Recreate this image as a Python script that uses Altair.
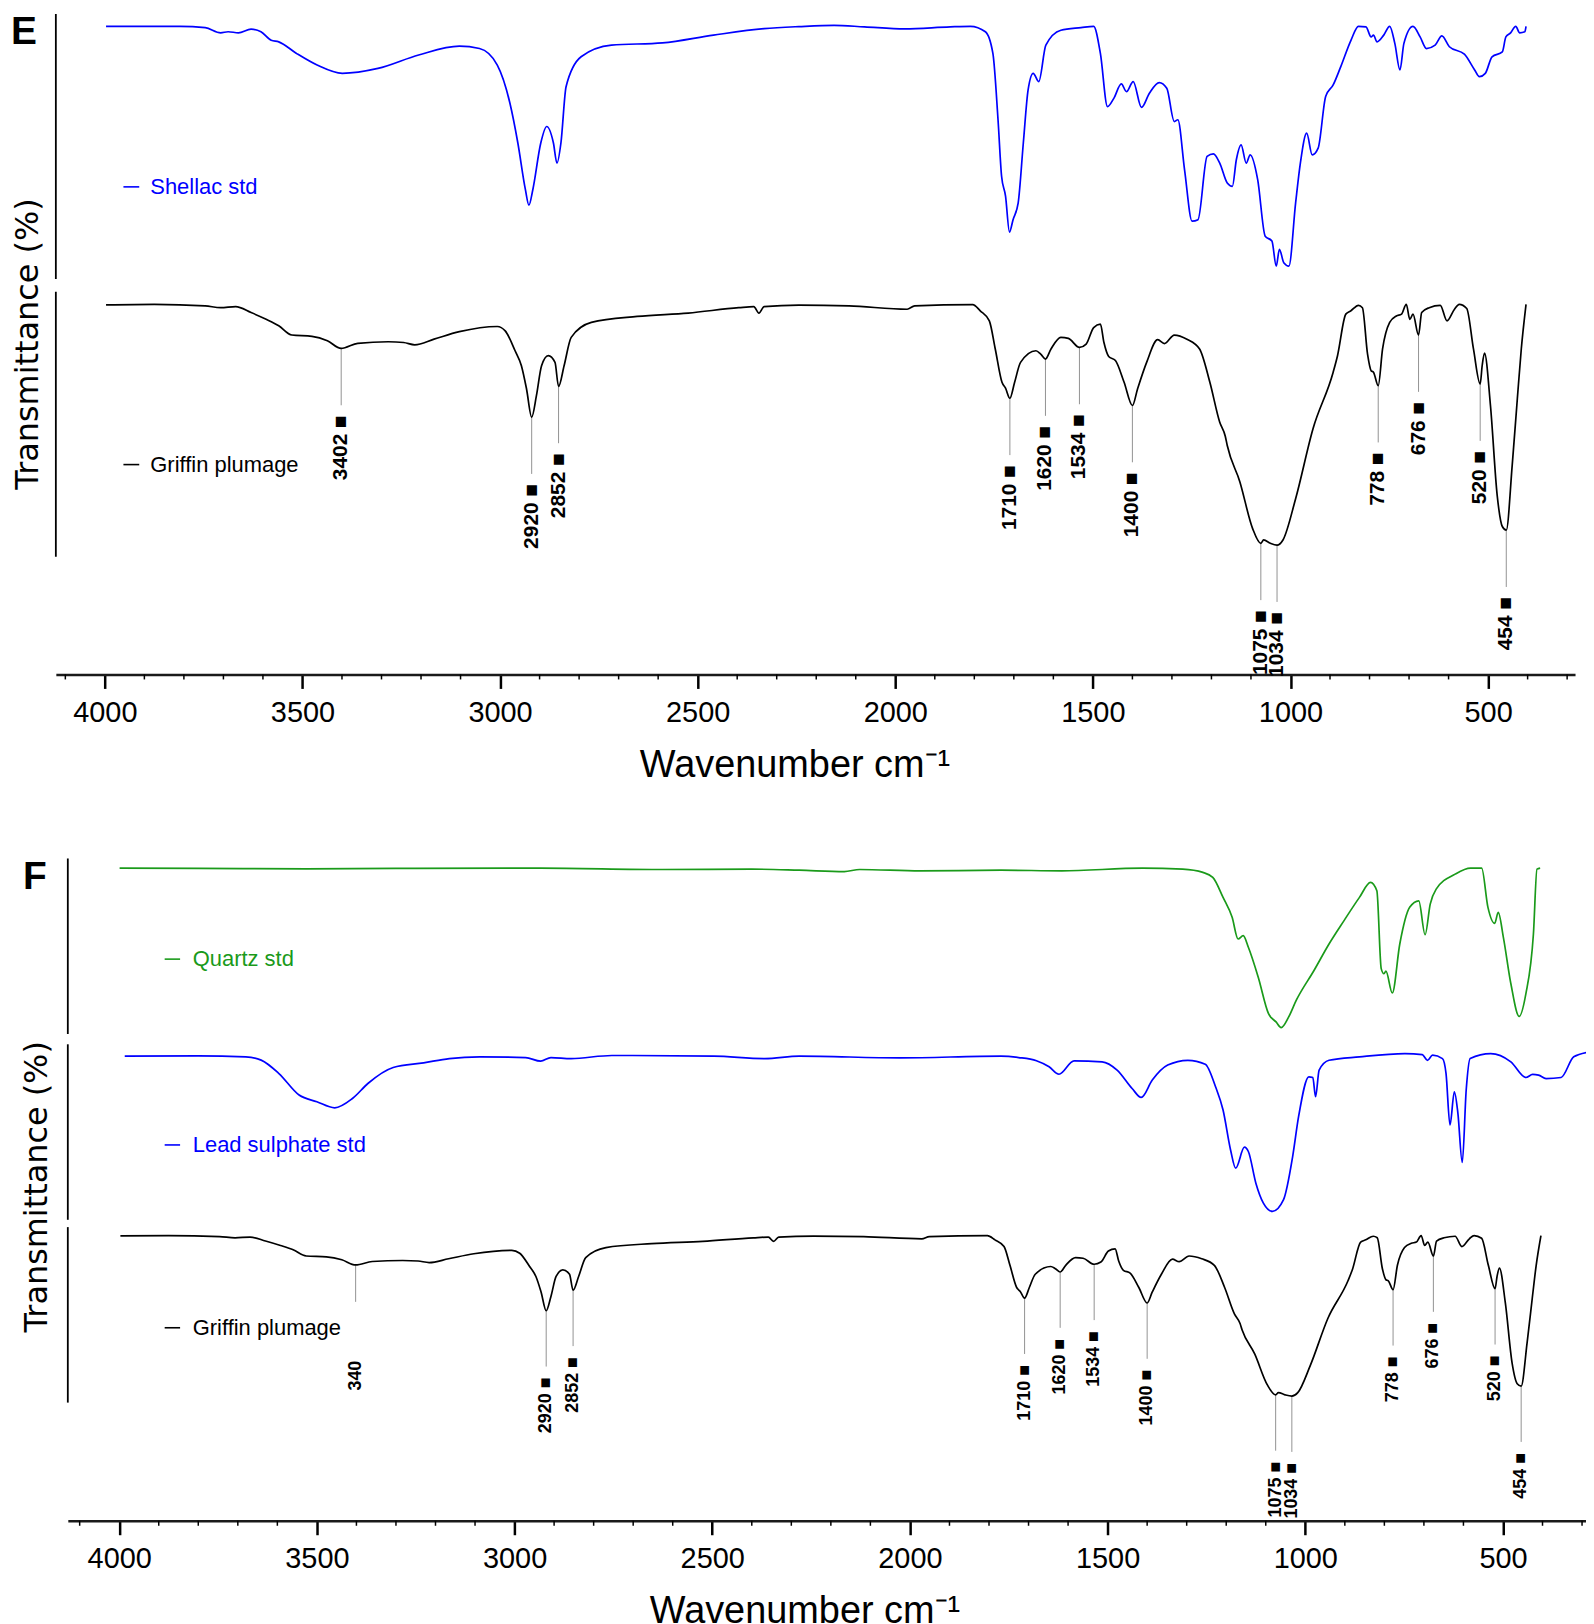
import altair as alt
import numpy as np
import pandas as pd

# ---------------- data (wavenumber in cm-1, transmittance in % of each trace's band) ----------------
shellac_wn = [3997, 3810, 3746, 3707, 3688, 3662, 3630, 3605, 3579, 3560, 3515, 3463, 3399, 3309, 3206,
              3103, 3052, 3007, 2975, 2955, 2936, 2927, 2917, 2897, 2882, 2865, 2856, 2846, 2833, 2795,
              2718, 2589, 2460, 2332, 2244, 2155, 2078, 1976, 1861, 1810, 1772, 1753, 1740, 1731, 1721,
              1711, 1702, 1689, 1676, 1664, 1651, 1637, 1619, 1581, 1530, 1498, 1481, 1463, 1447, 1428,
              1415, 1398, 1377, 1357, 1332, 1313, 1294, 1285, 1268, 1249, 1234, 1211, 1195, 1179, 1160,
              1147, 1137, 1125, 1112, 1102, 1083, 1064, 1047, 1036, 1028, 1017, 1004, 987, 975, 959,
              945, 930, 911, 892, 873, 847, 828, 809, 796, 790, 781, 764, 749, 736, 723,
              713, 690, 672, 656, 634, 617, 598, 560, 534, 522, 507, 490, 464, 455, 443,
              430, 420, 407, 404]
shellac_t = [95.2, 95.2, 94.7, 92.7, 93.1, 92.7, 94.1, 93.1, 89.8, 89.2, 84.7, 80.2, 77.0, 78.9, 84.1,
             87.5, 86.6, 80.2, 65.4, 50.0, 32.0, 25.9, 32.0, 50.0, 56.4, 50.0, 42.2, 50.0, 71.8, 83.4,
             87.9, 88.8, 91.8, 94.3, 95.1, 95.6, 95.0, 94.2, 95.0, 95.2, 93.1, 84.7, 59.0, 37.1, 29.4,
             15.5, 20.3, 26.8, 50.0, 70.5, 77.0, 73.8, 87.9, 93.7, 94.7, 95.2, 84.7, 64.1, 67.3, 72.9,
             69.9, 73.8, 63.8, 69.3, 73.4, 71.2, 58.3, 59.0, 39.6, 19.7, 20.3, 44.8, 45.8, 42.2, 34.5,
             33.2, 43.5, 49.3, 42.2, 45.4, 35.8, 13.9, 12.0, 2.3, 8.8, 3.6, 2.3, 26.8, 42.2, 53.8,
             45.4, 48.0, 68.0, 72.5, 79.5, 89.8, 95.2, 95.0, 91.1, 91.8, 89.2, 91.8, 95.2, 88.6, 78.3,
             88.6, 95.2, 91.1, 86.6, 87.9, 91.5, 87.3, 84.4, 78.3, 75.7, 77.0, 83.4, 85.3, 91.1, 92.7,
             95.2, 92.7, 93.1, 95.2]

griffin_wn = [3997, 3875, 3746, 3707, 3669, 3630, 3592, 3560, 3527, 3476, 3437, 3402, 3360, 3283, 3244,
              3216, 3167, 3103, 3007, 2987, 2962, 2946, 2933, 2920, 2908, 2895, 2878, 2861, 2852, 2838,
              2820, 2769, 2653, 2524, 2396, 2358, 2345, 2332, 2244, 2117, 1970, 1951, 1804, 1785, 1762,
              1747, 1730, 1721, 1710, 1698, 1683, 1644, 1632, 1620, 1606, 1581, 1562, 1534, 1517, 1498,
              1481, 1472, 1460, 1443, 1421, 1400, 1387, 1364, 1336, 1319, 1294, 1262, 1230, 1204, 1179,
              1165, 1160, 1128, 1096, 1075, 1068, 1051, 1034, 1019, 987, 943, 892, 881, 860, 847,
              828, 818, 805, 796, 790, 778, 767, 749, 732, 719, 707, 698, 690, 676, 668,
              649, 621, 604, 585, 573, 554, 537, 520, 515, 509, 494, 477, 464, 454, 439,
              426, 416, 404]
griffin_t = [94.9, 95.1, 94.5, 93.8, 94.2, 91.9, 89.3, 86.8, 83.2, 82.7, 81.0, 78.0, 80.0, 80.6, 80.3,
             79.4, 81.6, 84.5, 86.5, 84.8, 77.1, 71.3, 62.3, 51.4, 59.7, 71.3, 75.2, 72.6, 63.3, 71.3,
             82.3, 88.1, 90.4, 91.7, 93.8, 94.2, 91.7, 94.2, 94.8, 94.5, 93.2, 94.5, 95.0, 92.6, 88.7,
             77.8, 64.9, 62.6, 58.7, 64.9, 72.6, 77.1, 75.8, 73.9, 77.8, 82.3, 81.9, 78.4, 79.7, 86.1,
             87.4, 80.3, 74.9, 73.3, 64.9, 55.9, 62.3, 72.6, 81.4, 79.9, 83.2, 81.6, 77.8, 64.9, 49.4,
             44.0, 40.4, 26.3, 8.3, 2.5, 3.8, 2.5, 1.8, 3.8, 19.8, 46.9, 68.8, 75.2, 91.3, 92.6,
             94.7, 93.8, 75.8, 69.4, 68.8, 63.6, 77.8, 88.1, 90.6, 91.3, 95.1, 89.3, 91.3, 83.2, 91.9,
             93.8, 94.7, 88.7, 93.2, 95.1, 93.5, 77.8, 64.2, 71.3, 76.2, 55.9, 21.1, 9.0, 7.6, 32.7,
             58.5, 77.8, 95.1]

quartz_wn = [3999, 3800, 3526, 3300, 2934, 2625, 2400, 2280, 2166, 2127, 1974, 1770, 1616, 1412, 1310,
             1259, 1234, 1208, 1185, 1170, 1157, 1144, 1119, 1093, 1074, 1061, 1042, 1023, 978, 940,
             902, 863, 835, 819, 808, 801, 796, 780, 761, 736, 713, 697, 684, 669, 621,
             582, 554, 538, 521, 512, 499, 480, 459, 442, 423, 414, 406]
quartz_t = [94.4, 94.3, 94.0, 94.2, 94.4, 93.6, 93.8, 93.2, 92.4, 93.6, 92.8, 93.2, 92.8, 94.4, 93.8,
            91.9, 89.0, 77.4, 65.8, 53.2, 55.2, 48.4, 31.0, 9.8, 5.0, 1.7, 7.9, 17.5, 34.9, 50.3,
            63.9, 77.4, 86.1, 81.2, 36.0, 33.0, 34.5, 21.8, 50.3, 71.6, 75.4, 55.7, 73.5, 82.2, 90.9,
            94.4, 94.4, 71.6, 62.3, 68.7, 54.2, 27.2, 8.2, 21.4, 56.1, 93.8, 94.4]

lead_wn = [3986, 3800, 3680, 3641, 3596, 3545, 3500, 3455, 3410, 3371, 3307, 3230, 3165, 3088, 2972,
           2934, 2908, 2857, 2754, 2496, 2367, 2280, 2025, 1770, 1725, 1680, 1648, 1623, 1585, 1514,
           1476, 1438, 1415, 1387, 1348, 1297, 1253, 1227, 1208, 1189, 1176, 1154, 1144, 1125, 1106,
           1083, 1055, 1032, 1017, 991, 981, 974, 965, 940, 863, 748, 704, 691, 678, 653,
           644, 634, 623, 614, 603, 593, 583, 531, 480, 442, 425, 410, 391, 353, 321,
           279]
lead_t = [93.1, 93.3, 92.7, 90.8, 83.0, 70.5, 66.6, 63.1, 68.5, 77.2, 86.5, 89.2, 91.7, 92.7, 92.3,
          90.2, 92.3, 91.7, 93.5, 93.1, 91.7, 93.1, 92.1, 93.1, 92.3, 90.4, 86.9, 82.6, 90.4, 89.8,
          85.0, 74.3, 69.1, 79.2, 87.9, 90.7, 88.4, 75.3, 61.8, 38.6, 28.0, 40.2, 37.7, 19.3, 7.7,
          2.9, 9.7, 34.7, 57.9, 81.1, 80.7, 69.5, 85.0, 90.7, 92.7, 94.6, 94.0, 90.7, 93.7, 91.7,
          83.0, 53.1, 72.4, 59.9, 31.3, 73.4, 91.7, 94.6, 89.8, 80.7, 82.5, 82.1, 80.1, 80.7, 92.7,
          95.6]

peak_wn = [3402, 2920, 2852, 1710, 1620, 1534, 1400, 1075, 1034, 778, 676, 520, 454]
peak_text_E = ["3402 ■", "2920 ■", "2852 ■", "1710 ■", "1620 ■", "1534 ■", "1400 ■",
               "1075 ■", "1034 ■", "778 ■", "676 ■", "520 ■", "454 ■"]
peak_text_F = ["340", "2920 ■", "2852 ■", "1710 ■", "1620 ■", "1534 ■", "1400 ■",
               "1075 ■", "1034 ■", "778 ■", "676 ■", "520 ■", "454 ■"]

major_ticks = [4000, 3500, 3000, 2500, 2000, 1500, 1000, 500]
minor_ticks = [4100, 3900, 3800, 3700, 3600, 3400, 3300, 3200, 3100, 2900, 2800, 2700, 2600,
               2400, 2300, 2200, 2100, 1900, 1800, 1700, 1600, 1400, 1300, 1200, 1100,
               900, 800, 700, 600, 400, 300]

SPECTRA = {
    "Shellac std": (shellac_wn, shellac_t),
    "Griffin plumage": (griffin_wn, griffin_t),
    "Quartz std": (quartz_wn, quartz_t),
    "Lead sulphate std": (lead_wn, lead_t),
}
COLORS = {"Shellac std": "#0000ff", "Griffin plumage": "#000000",
          "Quartz std": "#1a9a1a", "Lead sulphate std": "#0000ff"}

FONT = "Liberation Sans, Arial, sans-serif"

# ---------------- layout ----------------
CFG_E = dict(letter="E", W=1524, H=663, off=0, domain=[4124, 280], ppu=2.589,
             bands={"Shellac std": 0.4, "Griffin plumage": 279.0}, seg_low=-2.7,
             line_len=57, label_off=67, ann_size=21, overrides={},
             legend_T=33, leg_x=(3953, 3913, 3885), letter_xy=(-45, 0), ytitle_x=-28,
             xtitle_x=741, peak_text=peak_text_E)
CFG_F = dict(letter="F", W=1535, H=670, off=12, domain=[4130, 290], ppu=1.726,
             bands={"Quartz std": 5.6, "Lead sulphate std": 192.0, "Griffin plumage": 375.4}, seg_low=-2.0,
             line_len=56, label_off=67, ann_size=18, overrides={"340": (37, 96)},
             legend_T=41.5, leg_x=(3885, 3846, 3814), letter_xy=(-33, 5), ytitle_x=-19,
             xtitle_x=751, peak_text=peak_text_F)


def panel(cfg):
    W, H, off, ppu = cfg["W"], cfg["H"], cfg["off"], cfg["ppu"]
    names = list(cfg["bands"].keys())
    xs = alt.Scale(domain=cfg["domain"], range=[off, W], nice=False, zero=False)
    ys = alt.Scale(domain=[0, H], reverse=True, nice=False, zero=False)
    cs = alt.Scale(domain=names, range=[COLORS[n] for n in names])
    axis = alt.Axis(values=major_ticks, format="d", tickSize=14, tickWidth=2.5, tickColor="black",
                    domainWidth=2.5, domainColor="#1a1a1a", labelFont=FONT, labelFontSize=29,
                    labelColor="black", labelPadding=10, labelFlush=False, labelOverlap=False,
                    grid=False, title="Wavenumber cm\u207b\u00b9", titleFont=FONT, titleFontSize=38,
                    titleFontWeight="normal", titleColor="black", titleX=cfg["xtitle_x"], titleY=72,
                    titleBaseline="top", titleAlign="center")

    def X(f):
        return alt.X(f"{f}:Q", scale=xs, axis=axis)

    Y = alt.Y("py:Q", scale=ys, axis=None)
    C = alt.Color("series:N", scale=cs, legend=None)

    def py(name, t):
        return cfg["bands"][name] + (100 - t) * ppu

    rows = []
    for n in names:
        wn, tt = SPECTRA[n]
        for w, t in zip(wn, tt):
            rows.append({"series": n, "wn": w, "T": t, "py": py(n, t)})
    df = pd.DataFrame(rows)

    lines = alt.Chart(df).mark_line(strokeWidth=1.7, clip=True, interpolate="monotone").encode(
        x=X("wn"), y=Y, color=C, detail="series:N")

    seg = pd.DataFrame({"series": names,
                        "py": [py(n, 100) for n in names],
                        "py2": [py(n, cfg["seg_low"]) for n in names]})
    segs = alt.Chart(seg).mark_rule(color="black", strokeWidth=1.8).encode(
        x=alt.value(off), y=Y, y2="py2:Q")

    gw = np.array(griffin_wn[::-1], dtype=float)
    gt = np.array(griffin_t[::-1], dtype=float)
    pk_t = np.interp(peak_wn, gw, gt)
    ann = pd.DataFrame({"wn": peak_wn, "label": cfg["peak_text"],
                        "py": [py("Griffin plumage", t) for t in pk_t]})
    layers = []
    groups = [(ann[~ann["label"].isin(cfg["overrides"].keys())], cfg["line_len"], cfg["label_off"])]
    for lab, (ll, lo) in cfg["overrides"].items():
        groups.append((ann[ann["label"] == lab], ll, lo))
    for sub, ll, lo in groups:
        if len(sub) == 0:
            continue
        layers.append(alt.Chart(sub).mark_rule(color="#777777", strokeWidth=0.8, y2Offset=ll).encode(
            x=X("wn"), y=Y, y2="py:Q"))
        layers.append(alt.Chart(sub).mark_text(angle=270, align="right", baseline="middle", yOffset=lo,
                                               font=FONT, fontSize=cfg["ann_size"], fontWeight="bold",
                                               color="black").encode(x=X("wn"), y=Y, text="label:N"))

    x1, x2, xt = cfg["leg_x"]
    leg = pd.DataFrame({"series": names, "x1": [x1] * len(names), "x2": [x2] * len(names),
                        "xt": [xt] * len(names), "py": [py(n, cfg["legend_T"]) for n in names]})
    leg_rule = alt.Chart(leg).mark_rule(strokeWidth=1.6).encode(x=X("x1"), x2="x2:Q", y=Y, color=C)
    leg_text = alt.Chart(leg).mark_text(align="left", baseline="middle", font=FONT, fontSize=22).encode(
        x=X("xt"), y=Y, text="series:N", color=C)

    lo_d, hi_d = min(cfg["domain"]), max(cfg["domain"])
    mt = pd.DataFrame({"wn": [w for w in minor_ticks if lo_d <= w <= hi_d]})
    minor = alt.Chart(mt).mark_rule(color="black", strokeWidth=1.5).encode(
        x=X("wn"), y=alt.value(H), y2=alt.value(H + 5))

    lx, ly = cfg["letter_xy"]
    letter = alt.Chart(pd.DataFrame({"t": [cfg["letter"]]})).mark_text(
        align="left", baseline="top", font=FONT, fontSize=39, fontWeight="bold", color="black").encode(
        x=alt.value(lx), y=alt.value(ly), text="t:N")
    ytitle = alt.Chart(pd.DataFrame({"t": ["Transmittance (%)"]})).mark_text(
        angle=270, align="center", baseline="middle", font="DejaVu Sans", fontSize=32, color="black").encode(
        x=alt.value(cfg["ytitle_x"]), y=alt.value(H / 2), text="t:N")

    return alt.layer(minor, segs, *layers, leg_rule, leg_text, letter, ytitle, lines).properties(
        width=W, height=H)


chart = alt.vconcat(panel(CFG_E), panel(CFG_F), spacing=69).resolve_scale(
    x="independent", y="independent", color="independent").properties(
    padding={"left": 3, "top": 2, "right": 0, "bottom": 0}).configure_view(stroke=None)

chart.save("out.html", embed_options={"renderer": "svg", "actions": False})
